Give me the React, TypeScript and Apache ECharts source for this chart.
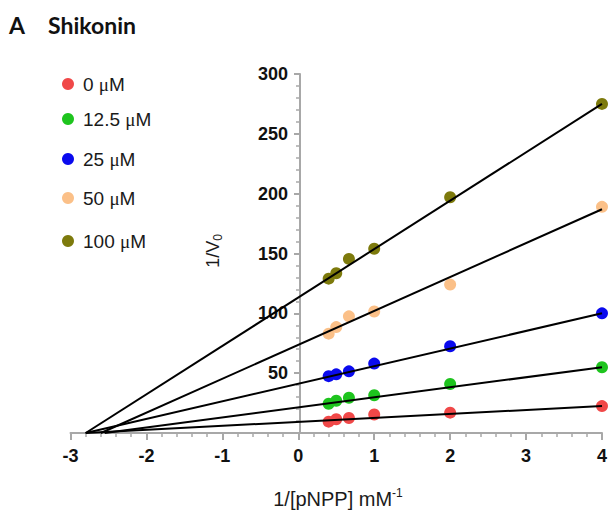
import React, { useEffect, useRef } from "react";
import * as echarts from "echarts";

// 1/[pNPP] (mM^-1)
const xValues = [0.4, 0.5, 0.667, 1, 2, 4];
// 1/V0 for each Shikonin concentration
const seriesNames = ["0 μM", "12.5 μM", "25 μM", "50 μM", "100 μM"];
const conc0 = [9.5, 11.5, 12.5, 15.5, 17, 22.5];
const conc12_5 = [24.5, 27, 29.5, 31.5, 41, 55];
const conc25 = [47.5, 49, 51.5, 58, 72.5, 100];
const conc50 = [83, 88.5, 97.5, 101.5, 124, 189];
const conc100 = [129, 133.5, 145.5, 154, 197, 275];
// fitted lines: x-intercept and value at x = 4
const fitXIntercepts = [-2.8, -2.55, -2.8, -2.6, -2.8];
const fitEndX = 4;
const fitEndValues = [22.5, 55, 100, 187, 275];

const colors = ["#f04848", "#1ec41e", "#0a0aee", "#fbc088", "#7d7a0c"];
const legendCenters = [84, 119, 159, 198, 241];

const allValues = [conc0, conc12_5, conc25, conc50, conc100];

const SANS = "Arial, 'Liberation Sans', sans-serif";

export default function App() {
  const ref = useRef<HTMLDivElement>(null);
  useEffect(() => {
    if (!ref.current) return;
    const chart = echarts.init(ref.current, null, { renderer: "svg" });
    const axisColor = "#a8a8a8";
    const gridLeft = 70.5;
    const gridRight = 4;
    const xMin = -3;
    const xMax = 4;
    const pxPerUnit = (610 - gridLeft - gridRight) / (xMax - xMin);
    const yAxisOffset = -(0 - xMin) * pxPerUnit;
    const labelFont = {
      fontFamily: SANS,
      fontWeight: "bold" as const,
      fontSize: 18,
      color: "#111",
    };
    const scatter = allValues.map((vals, i) => ({
      name: seriesNames[i],
      type: "scatter",
      symbol: "circle",
      symbolSize: 12,
      itemStyle: { color: colors[i], opacity: 1 },
      data: xValues.map((x, j) => [x, vals[j]]),
      z: 2,
    }));
    const lines = fitEndValues.map((v, i) => ({
      name: "fit" + i,
      type: "line",
      symbol: "none",
      silent: true,
      lineStyle: { color: "#000", width: 2 },
      data: [
        [fitXIntercepts[i], 0],
        [fitEndX, v],
      ],
      z: 3,
    }));
    const option = {
      animation: false,
      grid: { left: gridLeft, right: gridRight, top: 74, bottom: 81 },
      legend: seriesNames.map((n, i) => ({
        data: [n],
        left: 62,
        top: legendCenters[i] - 10,
        padding: 0,
        icon: "circle",
        itemWidth: 12,
        itemHeight: 12,
        selectedMode: false,
        formatter: (name: string) => name.replace("μ", "{mu|μ}"),
        textStyle: {
          fontFamily: SANS,
          fontSize: 19,
          color: "#1a1a1a",
          padding: [0, 0, 0, 4],
          lineHeight: 20,
          rich: {
            mu: {
              fontFamily: "'Liberation Serif', 'DejaVu Serif', serif",
              fontSize: 19,
              color: "#1a1a1a",
              lineHeight: 20,
            },
          },
        },
      })),
      xAxis: {
        type: "value",
        min: xMin,
        max: xMax,
        interval: 1,
        axisLine: { onZero: false, lineStyle: { color: axisColor, width: 2 } },
        axisTick: { show: true, length: 7, lineStyle: { color: axisColor, width: 2 } },
        minorTick: { show: true, splitNumber: 5, length: 4, lineStyle: { color: axisColor, width: 1.5 } },
        splitLine: { show: false },
        minorSplitLine: { show: false },
        axisLabel: { ...labelFont, margin: 14 },
      },
      yAxis: {
        type: "value",
        min: 0,
        max: 300,
        interval: 50,
        position: "left",
        offset: yAxisOffset,
        axisLine: { show: true, onZero: false, lineStyle: { color: axisColor, width: 2 } },
        axisTick: { show: true, length: 6, lineStyle: { color: axisColor, width: 2 } },
        minorTick: { show: true, splitNumber: 5, length: 4, lineStyle: { color: axisColor, width: 1.5 } },
        splitLine: { show: false },
        minorSplitLine: { show: false },
        axisLabel: {
          ...labelFont,
          margin: 12,
          formatter: (v: number) => (v === 0 ? "" : String(v)),
        },
      },
      graphic: [
        {
          type: "text",
          x: 9,
          y: 25,
          style: {
            text: "A",
            font: "bold 23px Lato, sans-serif",
            fill: "#111",
            textVerticalAlign: "middle",
            verticalAlign: "middle",
          },
        },
        {
          type: "text",
          x: 48,
          y: 25,
          style: {
            text: "Shikonin",
            font: "bold 23px Lato, sans-serif",
            fill: "#111",
            textVerticalAlign: "middle",
            verticalAlign: "middle",
          },
        },
        {
          type: "text",
          x: 213,
          y: 251,
          rotation: Math.PI / 2,
          style: {
            text: "{a|1/V}{b|0}",
            fill: "#1a1a1a",
            textAlign: "center",
            align: "center",
            textVerticalAlign: "middle",
            verticalAlign: "middle",
            rich: {
              a: { fontFamily: SANS, fontSize: 18, lineHeight: 22, verticalAlign: "middle", fill: "#1a1a1a" },
              b: { fontFamily: SANS, fontSize: 12, lineHeight: 12, verticalAlign: "bottom", fill: "#1a1a1a" },
            },
          },
        },
        {
          type: "text",
          x: 338,
          y: 499,
          style: {
            text: "{a|1/[pNPP] mM}{b|-1}",
            fill: "#1a1a1a",
            textAlign: "center",
            align: "center",
            textVerticalAlign: "middle",
            verticalAlign: "middle",
            rich: {
              a: { fontFamily: SANS, fontSize: 20, lineHeight: 24, verticalAlign: "middle", fill: "#1a1a1a" },
              b: { fontFamily: SANS, fontSize: 12, lineHeight: 12, verticalAlign: "top", fill: "#1a1a1a" },
            },
          },
        },
      ],
      series: [...scatter, ...lines],
    };
    chart.setOption(option as any);
    return () => chart.dispose();
  }, []);
  return (
    <div
      ref={ref}
      style={{ position: "absolute", left: 0, top: 0, width: 610, height: 514 }}
    />
  );
}
